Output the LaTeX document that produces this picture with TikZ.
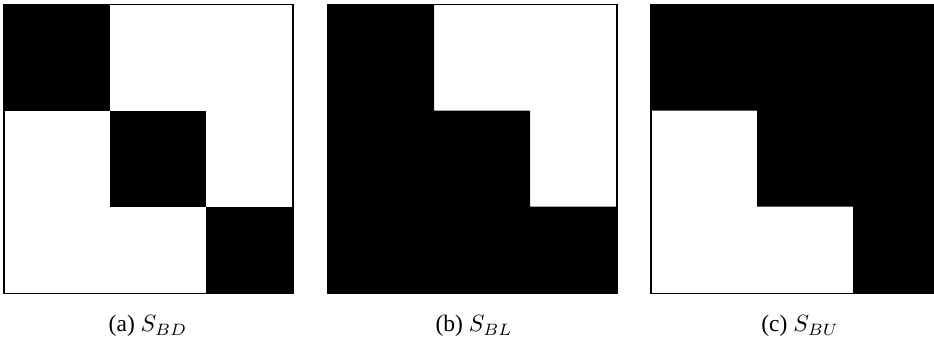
\documentclass[tikz,border=0pt]{standalone}
\usepackage{fontspec}
\setmainfont{Liberation Serif}
\usetikzlibrary{positioning}
\tikzset{
  frame/.style={draw=black, line width=0.5pt},
  blk/.style={fill=black},
  caption/.style={font=\normalsize, inner sep=1pt}
}
\begin{document}
\begin{tikzpicture}[x=0.425pt, y=-0.425pt]
  \useasboundingbox (0,0) rectangle (934,347);
  \clip (0,0) rectangle (934,347);
  % (a) block diagonal
  \begin{scope}[shift={(4,4.5)}]
    \foreach \t/\b in {0/106, 106/202, 202/289} {
      \fill[blk] (\t,\t) rectangle (\b,\b);
    }
    \draw[frame] (0,0) rectangle (289,289);
  \end{scope}
  % (b) block lower
  \begin{scope}[shift={(328,4.5)}]
    \fill[blk] (0,0) -- (106,0) -- (106,106) -- (202,106) -- (202,202)
      -- (289,202) -- (289,289) -- (0,289) -- cycle;
    \draw[frame] (0,0) rectangle (289,289);
  \end{scope}
  % (c) block upper
  \begin{scope}[shift={(651,4.5)}]
    \fill[blk] (0,0) -- (289,0) -- (289,289) -- (202,289) -- (202,202)
      -- (106,202) -- (106,106) -- (0,106) -- cycle;
    \draw[frame] (0,0) rectangle (289,289);
  \end{scope}
  % captions
  \node[caption] (capa) at (148,326) {(a) $S_{BD}$};
  \node[caption] (capb) at (474,326) {(b) $S_{BL}$};
  \node[caption] (capc) at (800,326) {(c) $S_{BU}$};
\end{tikzpicture}
\end{document}
